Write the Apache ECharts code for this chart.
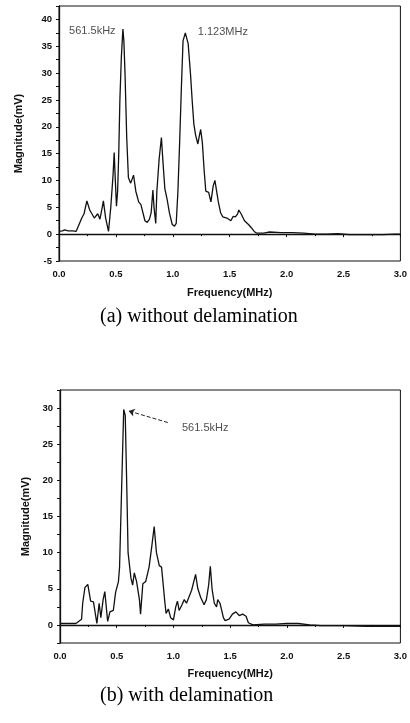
<!DOCTYPE html>
<html>
<head>
<meta charset="utf-8">
<script src="https://cdn.jsdelivr.net/npm/echarts@6/dist/echarts.min.js"></script>
<style>
  html, body { margin: 0; padding: 0; background: #fff; }
  #main { width: 410px; height: 723px; }
</style>
</head>
<body>
<div id="main"></div>
<script>
// (a) without delamination
var freqA = [0, 0.03, 0.05, 0.08, 0.12, 0.15, 0.18, 0.2, 0.22, 0.245, 0.27, 0.31, 0.325, 0.34, 0.36, 0.38, 0.39, 0.41, 0.435, 0.455,
	0.475, 0.485, 0.495, 0.505, 0.515, 0.525, 0.535, 0.548, 0.5615, 0.57, 0.58, 0.595, 0.61, 0.63, 0.655, 0.675, 0.7, 0.72, 0.73, 0.755,
	0.775, 0.795, 0.81, 0.825, 0.835, 0.85, 0.86, 0.88, 0.9, 0.915, 0.93, 0.95, 0.97, 0.995, 1.015, 1.03, 1.045, 1.06, 1.075, 1.09,
	1.11, 1.123, 1.135, 1.155, 1.17, 1.185, 1.2, 1.22, 1.235, 1.245, 1.26, 1.275, 1.29, 1.315, 1.335, 1.355, 1.37, 1.385, 1.4, 1.42,
	1.44, 1.475, 1.51, 1.53, 1.55, 1.57, 1.58, 1.6, 1.63, 1.665, 1.69, 1.715, 1.735, 1.8, 1.85, 1.95, 2.05, 2.15, 2.25, 2.35,
	2.45, 2.55, 2.7, 2.85, 2.95, 3.0];
var magA = [0.5, 0.6, 0.8, 0.6, 0.6, 0.5, 2.0, 3.0, 3.8, 6.2, 4.5, 3.0, 2.8, 3.8, 2.8, 5.0, 6.2, 3.0, 0.5, 5.0,
	11, 15.2, 10, 5.2, 8, 15, 25, 33, 38.2, 36, 30, 18, 10.5, 9.5, 11.0, 8, 6, 5.5, 5.2, 2.5,
	2.2, 2.8, 4, 8.2, 5, 2.0, 8, 14, 18, 13, 8.5, 6.5, 4, 1.8, 1.5, 2, 8, 17, 27, 36,
	37.5, 37.8, 35.5, 30, 25, 20.5, 18.5, 16.8, 18.5, 19.5, 17, 12, 8, 7.8, 6, 9, 10, 10.2, 6, 4,
	3.2, 3, 2.5, 3.3, 3.2, 3.8, 4.5, 3.8, 2.5, 1.8, 1.2, 0.5, 0.2, 0.2, 0.4, 0.3, 0.3, 0.2, 0.0, 0.0,
	0.1, -0.1, -0.1, -0.1, 0.0, 0.0];

// (b) with delamination
var freqB = [0, 0.14, 0.19, 0.2, 0.22, 0.245, 0.27, 0.295, 0.325, 0.345, 0.36, 0.38, 0.395, 0.42, 0.44, 0.47, 0.49, 0.515, 0.525, 0.545,
	0.5615, 0.575, 0.59, 0.6, 0.625, 0.64, 0.655, 0.675, 0.7, 0.71, 0.73, 0.755, 0.785, 0.81, 0.83, 0.85, 0.875, 0.895, 0.91, 0.925,
	0.935, 0.955, 0.975, 1.0, 1.02, 1.035, 1.05, 1.075, 1.095, 1.115, 1.13, 1.16, 1.195, 1.215, 1.24, 1.27, 1.29, 1.31, 1.325, 1.34,
	1.36, 1.38, 1.39, 1.41, 1.425, 1.44, 1.455, 1.49, 1.52, 1.55, 1.58, 1.61, 1.64, 1.66, 1.7, 1.8, 1.9, 2.0, 2.1, 2.2,
	2.3, 2.5, 2.7, 3.0];
var magB = [0.2, 0.2, 0.8, 3, 5.2, 5.6, 3.3, 3.2, 0.2, 3.0, 1.0, 3.5, 4.6, 0.5, 1.8, 2.0, 4.5, 6, 8, 20,
	29.8, 29, 18, 10, 6.5, 5.5, 7.2, 6, 3.5, 1.5, 5.7, 6, 8, 11, 13.6, 10, 8.2, 8.0, 8.2, 3,
	1.6, 2.2, 1.0, 0.7, 2.5, 3.3, 2.0, 2.8, 3.5, 3.0, 2.8, 4.8, 7.0, 5, 3.8, 2.8, 3.5, 5.5, 8.1, 5,
	3.0, 2.5, 3.5, 3.0, 2, 1.0, 0.6, 0.8, 1.5, 1.8, 1.3, 1.5, 1.2, 0.3, 0.0, 0.1, 0.1, 0.2, 0.2, 0.0,
	-0.1, -0.1, -0.2, -0.2];

var xTicks = [0, 0.5, 1.0, 1.5, 2.0, 2.5, 3.0];
var captions = ['(a) without delamination', '(b) with delamination'];

function zip(xs, ys){
	var out = [];
	for (var i = 0; i < xs.length; i++) out.push([xs[i], ys[i]]);
	return out;
}

var sans = 'Liberation Sans';
var ink = '#111';

function xAxisFor(idx){
	return {
		type: 'value', gridIndex: idx, min: 0, max: 3, interval: 0.5,
		name: 'Frequency(MHz)', nameLocation: 'middle', nameGap: idx == 0 ? 26 : 25,
		nameTextStyle: { fontFamily: sans, fontSize: 11, fontWeight: 'bold', color: ink },
		axisLine: { lineStyle: { color: ink, width: 1.3 } },
		axisTick: { length: 3, lineStyle: { color: ink } },
		minorTick: { show: true, splitNumber: 2, length: 2, lineStyle: { color: ink } },
		axisLabel: { fontFamily: sans, fontSize: 9.5, fontWeight: 'bold', color: ink, margin: 8,
			formatter: function(v){ return xTicks.indexOf(v) >= 0 ? v.toFixed(1) : ''; } },
		splitLine: { show: false }
	};
}
function yAxisFor(idx, min, max, gap){
	return {
		type: 'value', gridIndex: idx, min: min, max: max, interval: 2.5,
		name: 'Magnitude(mV)', nameLocation: 'middle', nameGap: gap,
		nameTextStyle: { fontFamily: sans, fontSize: 11, fontWeight: 'bold', color: ink },
		axisLine: { lineStyle: { color: ink, width: 1.3 } },
		axisTick: { length: 3, lineStyle: { color: ink } },
		axisLabel: { fontFamily: sans, fontSize: 9.5, fontWeight: 'bold', color: ink, margin: 7,
			formatter: function(v){ return (v % 5 === 0) ? String(v) : ''; } },
		splitLine: { show: false }
	};
}
function labelSeries(idx, x, y, text){
	return {
		type: 'scatter', xAxisIndex: idx, yAxisIndex: idx, symbolSize: 0, silent: true,
		data: [[x, y]],
		label: { show: true, position: 'inside', formatter: text, fontFamily: sans, fontSize: 11, color: '#222' }
	};
}

var myChart = echarts.init(document.getElementById('main'));
var option = {
	animation: false,
	backgroundColor: '#fff',
	grid: [
		{ left: 59, right: 8, top: 6, bottom: 462, show: true, borderColor: ink, borderWidth: 1 },
		{ left: 60, right: 9, top: 390, bottom: 80, show: true, borderColor: ink, borderWidth: 1 }
	],
	xAxis: [xAxisFor(0), xAxisFor(1)],
	yAxis: [yAxisFor(0, -5, 42.5, 35), yAxisFor(1, -2.5, 32.5, 27)],
	graphic: [
		{ type: 'text', left: 100, top: 307, style: { text: captions[0], font: '20px "Liberation Serif"', fill: '#000' } },
		{ type: 'text', left: 100, top: 686, style: { text: captions[1], font: '20px "Liberation Serif"', fill: '#000' } }
	],
	series: [
		{
			type: 'line', xAxisIndex: 0, yAxisIndex: 0, data: zip(freqA, magA),
			showSymbol: false, lineStyle: { color: ink, width: 1.3 }
		},
		{
			type: 'line', xAxisIndex: 1, yAxisIndex: 1, data: zip(freqB, magB),
			showSymbol: false, lineStyle: { color: ink, width: 1.3 },
			markLine: {
				silent: true, symbol: ['none', 'arrow'], symbolSize: 6,
				label: { show: false },
				lineStyle: { type: 'dashed', color: '#222', width: 1 },
				data: [[{ coord: [0.95, 28.0] }, { coord: [0.605, 29.6] }]]
			}
		},
		labelSeries(0, 0.293, 37.9, '561.5kHz'),
		labelSeries(0, 1.44, 37.6, '1.123MHz'),
		labelSeries(1, 1.28, 27.3, '561.5kHz')
	]
};
if (option && typeof option === "object") {
	myChart.setOption(option, true);
}
</script>
</body>
</html>
